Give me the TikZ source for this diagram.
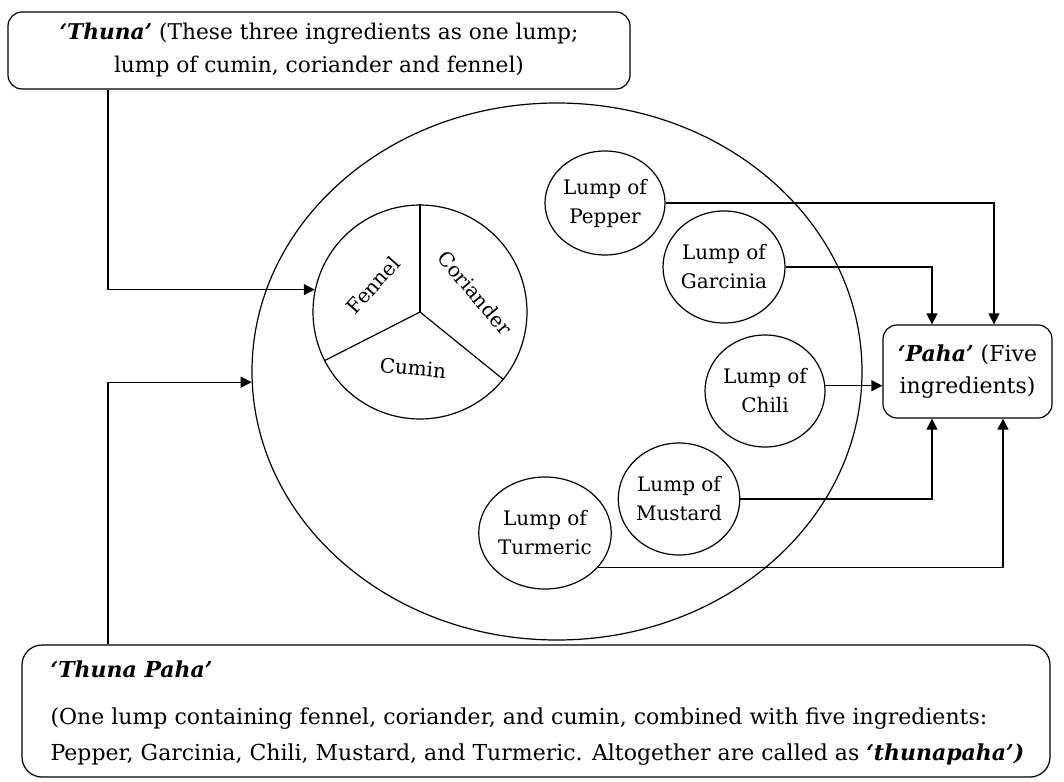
\documentclass[tikz,border=0pt]{standalone}
\usepackage{fontspec}
\setmainfont{DejaVu Serif}
\usetikzlibrary{arrows.meta,shapes.geometric}
\begin{document}
\begin{tikzpicture}[x=1pt,y=-1pt,line width=1.2pt,
  >={Triangle[length=11pt,width=11pt]},
  roundbox/.style={draw,rounded corners=14pt,inner sep=0pt,align=center},
  lump/.style={draw,ellipse,inner sep=0pt,minimum width=120pt,minimum height=112pt,align=center,font=\fontsize{20}{29}\selectfont},
  pielabel/.style={font=\fontsize{20}{24}\selectfont,inner sep=0pt},
  bodytext/.style={font=\fontsize{22}{36}\selectfont,inner sep=0pt,anchor=base west}]
\useasboundingbox (0,0) rectangle (1064,781);
% boxes
\node[roundbox,minimum width=622pt,minimum height=77pt,font=\fontsize{21.7}{33}\selectfont] (thuna) at (319,50.5)
  {\textbf{\textit{‘Thuna’}} (These three ingredients as one lump;\\lump of cumin, coriander and fennel)};
\node[roundbox,minimum width=169pt,minimum height=93pt,font=\fontsize{22}{32}\selectfont] (paha) at (967.5,371.5)
  {\textbf{\textit{‘Paha’}} (Five\\ingredients)};
\node[roundbox,rounded corners=20pt,minimum width=1028pt,minimum height=132pt] (tp) at (536,711) {};
\node[bodytext] (tptitle) at (50,677) {\textbf{\textit{‘Thuna Paha’}}};
\node[bodytext] (tpline1) at (50,724) {(One lump containing fennel, coriander, and cumin, combined with five ingredients:};
\node[bodytext] (tpline2) at (50,760) {Pepper, Garcinia, Chili, Mustard, and Turmeric. Altogether are called as \textbf{\textit{‘thunapaha’)}}};
% big ellipse and pie
\node[draw,ellipse,inner sep=0pt,minimum width=610pt,minimum height=537pt] (big) at (557,371.5) {};
\node[draw,circle,inner sep=0pt,minimum size=214pt] (pie) at (420,312) {};
\draw (pie.center) -- (pie.90);
\draw (pie.center) -- (pie.207);
\draw (pie.center) -- (pie.-39);
\node[pielabel,rotate=48] (fennel) at (373,285) {Fennel};
\node[pielabel,rotate=-50] (coriander) at (475,293) {Coriander};
\node[pielabel,rotate=-5] (cumin) at (413,368) {Cumin};
% lumps
\node[lump,minimum height=104pt] (pepper) at (605,203) {Lump of\\Pepper};
\node[lump] (garc) at (724,267) {Lump of\\Garcinia};
\node[lump] (chili) at (765,391) {Lump of\\Chili};
\node[lump] (must) at (679,499) {Lump of\\Mustard};
\node[lump] (turm) at (545,533) {Lump of\\Turmeric};
% helper columns
\coordinate (la) at (108,0);
\coordinate (xa) at (932,0);
\coordinate (xb) at (994,0);
\coordinate (xc) at (1003,0);
% connectors
\draw[->] (thuna.south -| la) |- (pie.168);
\draw[->] (tp.north -| la) |- (big.182);
\draw[->] (pepper.east) -| (xb |- paha.north);
\draw[->] (garc.east) -| (xa |- paha.north);
\draw[->] (chili.5) -- (chili.5 -| paha.west);
\draw[->] (must.east) -| (xa |- paha.south);
\draw[->] (turm.-33) -| (xc |- paha.south);
\end{tikzpicture}
\end{document}
